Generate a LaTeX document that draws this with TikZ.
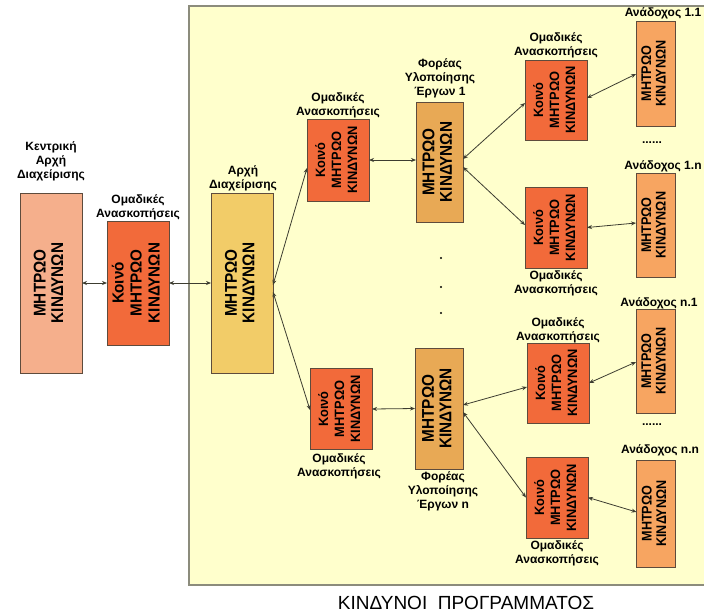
\documentclass[tikz,border=0pt]{standalone}
\usepackage{fontspec}
\usepackage{graphicx}
\setmainfont{Liberation Sans}
\usetikzlibrary{arrows.meta}

\definecolor{panelfill}{HTML}{FFFFCC}
\definecolor{panelline}{HTML}{8C8C7C}
\definecolor{boxline}{HTML}{5E4B3C}
\definecolor{central}{HTML}{F5AF8C}
\definecolor{review}{HTML}{F26A3A}
\definecolor{authority}{HTML}{F2CC68}
\definecolor{agency}{HTML}{E8A955}
\definecolor{contractor}{HTML}{F7A561}
\definecolor{linkcol}{HTML}{3C3C30}

% vertical (rotated) multi-line box text: size, skip, horizontal squeeze, lines
\newcommand{\vlines}[4]{\rotatebox{90}{\fontsize{#1}{#2}\selectfont\bfseries\scalebox{#3}[1]{\begin{tabular}{@{}c@{}}#4\end{tabular}}}}

\tikzset{
  regbox/.style={draw=boxline, line width=0.8pt, inner sep=0pt, outer sep=0pt},
  lbl/.style={font=\fontsize{12}{14}\selectfont\bfseries, align=center, inner sep=0pt},
  link/.style={draw=linkcol, line width=0.8pt,
    {Stealth[length=5pt,width=4pt]}-{Stealth[length=5pt,width=4pt]}},
  dotmark/.style={circle, fill=black, inner sep=0pt, minimum size=2.4pt},
}

\begin{document}
\begin{tikzpicture}[x=1pt, y=-1pt]
  \useasboundingbox (0,0) rectangle (704,614);
  \fill[white] (0,0) rectangle (704,614);

  % programme panel
  \fill[panelfill] (189,6) rectangle (712,585);
  \draw[panelline, line width=1.6pt] (712,6) -- (189,6) -- (189,585) -- (712,585);

  % central managing authority
  \node[regbox, fill=central, minimum width=62pt, minimum height=180pt] (kra) at (51,283)
    {\vlines{17}{17.5}{0.9}{ΜΗΤΡΩΟ\\ΚΙΝΔΥΝΩΝ}};
  \node[lbl] (lkra) at (51,161) {Κεντρική\\Αρχή\\Διαχείρισης};

  \node[regbox, fill=review, minimum width=62pt, minimum height=124pt] (ko0) at (138,283)
    {\vlines{16}{18}{0.95}{Κοινό\\ΜΗΤΡΩΟ\\ΚΙΝΔΥΝΩΝ}};
  \node[lbl] (lko0) at (138,207) {Ομαδικές\\Ανασκοπήσεις};

  % managing authority
  \node[regbox, fill=authority, minimum width=62pt, minimum height=180pt] (arx) at (242,283)
    {\vlines{17}{17.5}{0.9}{ΜΗΤΡΩΟ\\ΚΙΝΔΥΝΩΝ}};
  \node[lbl] (larx) at (243,178) {Αρχή\\Διαχείρισης};

  % reviews between authority and agencies
  \node[regbox, fill=review, minimum width=62pt, minimum height=82pt] (ko1) at (338,160)
    {\vlines{13.5}{16}{0.95}{Κοινό\\ΜΗΤΡΩΟ\\ΚΙΝΔΥΝΩΝ}};
  \node[lbl] (lko1) at (338,105) {Ομαδικές\\Ανασκοπήσεις};

  \node[regbox, fill=review, minimum width=62pt, minimum height=81pt] (ko2) at (341,409)
    {\vlines{13.5}{16}{0.95}{Κοινό\\ΜΗΤΡΩΟ\\ΚΙΝΔΥΝΩΝ}};
  \node[lbl] (lko2) at (339,466) {Ομαδικές\\Ανασκοπήσεις};

  % implementing agencies
  \node[regbox, fill=agency, minimum width=47pt, minimum height=120pt] (fo1) at (439.5,162)
    {\vlines{17}{17.5}{0.9}{ΜΗΤΡΩΟ\\ΚΙΝΔΥΝΩΝ}};
  \node[lbl] (lfo1) at (440,78) {Φορέας\\Υλοποίησης\\Έργων 1};

  \node[regbox, fill=agency, minimum width=48pt, minimum height=121pt] (fon) at (439,408.5)
    {\vlines{17}{17.5}{0.9}{ΜΗΤΡΩΟ\\ΚΙΝΔΥΝΩΝ}};
  \node[lbl] (lfon) at (443,491) {Φορέας\\Υλοποίησης\\Έργων n};

  \node[dotmark] (d1) at (441,258) {};
  \node[dotmark] (d2) at (441,287) {};
  \node[dotmark] (d3) at (441,313) {};

  % reviews between agencies and contractors
  \node[regbox, fill=review, minimum width=62pt, minimum height=80pt] (k11) at (556,100)
    {\vlines{13.5}{16}{0.95}{Κοινό\\ΜΗΤΡΩΟ\\ΚΙΝΔΥΝΩΝ}};
  \node[lbl] (lk11) at (556,45) {Ομαδικές\\Ανασκοπήσεις};

  \node[regbox, fill=review, minimum width=62pt, minimum height=81pt] (k1n) at (556,227.5)
    {\vlines{13.5}{16}{0.95}{Κοινό\\ΜΗΤΡΩΟ\\ΚΙΝΔΥΝΩΝ}};
  \node[lbl] (lk1n) at (556,283) {Ομαδικές\\Ανασκοπήσεις};

  \node[regbox, fill=review, minimum width=62pt, minimum height=80pt] (kn1) at (558,383)
    {\vlines{13.5}{16}{0.95}{Κοινό\\ΜΗΤΡΩΟ\\ΚΙΝΔΥΝΩΝ}};
  \node[lbl] (lkn1) at (558,330) {Ομαδικές\\Ανασκοπήσεις};

  \node[regbox, fill=review, minimum width=62pt, minimum height=81pt] (knn) at (557,497.5)
    {\vlines{13.5}{16}{0.95}{Κοινό\\ΜΗΤΡΩΟ\\ΚΙΝΔΥΝΩΝ}};
  \node[lbl] (lknn) at (557,553) {Ομαδικές\\Ανασκοπήσεις};

  % contractors
  \node[regbox, fill=contractor, minimum width=39pt, minimum height=105pt] (a11) at (655.5,73.5)
    {\vlines{14}{14.5}{0.9}{ΜΗΤΡΩΟ\\ΚΙΝΔΥΝΩΝ}};
  \node[lbl] (la11) at (663,13) {Ανάδοχος 1.1};
  \node[lbl] (e1) at (652,143) {......};

  \node[regbox, fill=contractor, minimum width=39pt, minimum height=104pt] (a1n) at (655.5,225)
    {\vlines{14}{14.5}{0.9}{ΜΗΤΡΩΟ\\ΚΙΝΔΥΝΩΝ}};
  \node[lbl] (la1n) at (663,166) {Ανάδοχος 1.n};

  \node[regbox, fill=contractor, minimum width=39pt, minimum height=104pt] (an1) at (655.5,361)
    {\vlines{14}{14.5}{0.9}{ΜΗΤΡΩΟ\\ΚΙΝΔΥΝΩΝ}};
  \node[lbl] (lan1) at (659,303) {Ανάδοχος n.1};
  \node[lbl] (e2) at (652,425) {......};

  \node[regbox, fill=contractor, minimum width=39pt, minimum height=107pt] (ann) at (656,513.5)
    {\vlines{14}{14.5}{0.9}{ΜΗΤΡΩΟ\\ΚΙΝΔΥΝΩΝ}};
  \node[lbl] (lann) at (660,450) {Ανάδοχος n.n};

  % links
  \draw[link] (kra.east) -- (ko0.west);
  \draw[link] (ko0.east) -- (arx.west);
  \draw[link] ([yshift=-2pt]arx.east) -- ([yshift=-8pt]ko1.west);
  \draw[link] ([yshift=-9pt]arx.east) -- ([yshift=-1pt]ko2.west);
  \draw[link] (ko1.east) -- ([yshift=2pt]fo1.west);
  \draw[link] (ko2.east) -- (fon.west);
  \draw[link] ([yshift=3pt]fo1.east) -- ([yshift=-3pt]k11.west);
  \draw[link] ([yshift=-5pt]fo1.east) -- ([yshift=2.5pt]k1n.west);
  \draw[link] ([yshift=3.5pt]fon.east) -- ([yshift=-4pt]kn1.west);
  \draw[link] ([yshift=-3.5pt]fon.east) -- (knn.west);
  \draw[link] ([yshift=2pt]k11.east) -- ([yshift=-0.5pt]a11.west);
  \draw[link] (k1n.east) -- ([yshift=2pt]a1n.west);
  \draw[link] (kn1.east) -- ([yshift=-1pt]an1.west);
  \draw[link] (knn.east) -- ([yshift=1.5pt]ann.west);

  % caption
  \node[font=\fontsize{19}{22}\selectfont, anchor=base, inner sep=0pt] (cap) at (466,609)
    {ΚΙΝΔΥΝΟΙ\ \ ΠΡΟΓΡΑΜΜΑΤΟΣ};
\end{tikzpicture}
\end{document}
